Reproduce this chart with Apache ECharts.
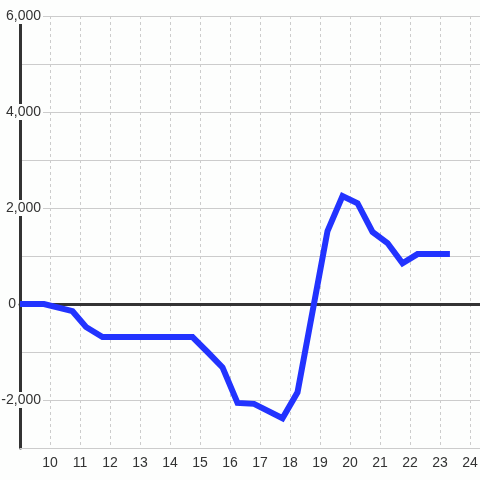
<!DOCTYPE html>
<html>
<head>
<meta charset="utf-8">
<script src="https://cdn.jsdelivr.net/npm/echarts@6/dist/echarts.min.js"></script>
<style>
  html, body { margin: 0; padding: 0; background: #fdfefd; }
  #chart { width: 480px; height: 480px; }
</style>
</head>
<body>
<div id="chart"></div>
<script>
// hours of day (x) and value (y)
const hours = [9.0, 9.8, 10.75, 11.2, 11.75, 14.75, 15.25, 15.75, 16.25, 16.8, 17.75, 18.25, 19.25, 19.75, 20.25, 20.75, 21.25, 21.75, 22.25, 23.33]
const values = [0, 0, -150, -480, -690, -690, -1000, -1320, -2060, -2080, -2380, -1840, 1520, 2250, 2100, 1500, 1270, 850, 1040, 1040]
const yTicks = [-2000, 0, 2000, 4000, 6000]

const bg = '#fdfefd'
const font = "'Liberation Sans', Arial, sans-serif"
const chart = echarts.init(document.getElementById('chart'))

const points = hours.map((h, i) => [h, values[i]])

chart.setOption({
  backgroundColor: bg,
  animation: false,
  grid: { left: 20, right: 0, top: 16, bottom: 32, outerBoundsMode: 'none', containLabel: false },
  xAxis: [
    {
      type: 'value',
      min: 9,
      max: 24.333,
      interval: 1,
      axisLine: { onZero: false, lineStyle: { color: '#cccccc', width: 1 } },
      axisTick: { show: false },
      axisLabel: {
        showMinLabel: false,
        showMaxLabel: false,
        color: '#333',
        fontSize: 14,
        fontFamily: font,
        margin: 8
      },
      splitLine: { show: true, lineStyle: { color: '#cccccc', type: [3, 3] } }
    },
    {
      // thick zero line
      type: 'value',
      min: 9,
      max: 24.333,
      interval: 1,
      position: 'top',
      axisLine: { show: true, onZero: true, lineStyle: { color: '#333', width: 3 } },
      axisTick: { show: false },
      axisLabel: { show: false },
      splitLine: { show: false },
      minorSplitLine: { show: false }
    }
  ],
  yAxis: {
    type: 'value',
    min: -3000,
    max: 6000,
    interval: 1000,
    axisLine: { show: true, lineStyle: { color: '#333', width: 3 } },
    axisTick: { show: false },
    axisLabel: {
      margin: -23,
      color: '#333',
      fontSize: 14,
      fontFamily: font,
      formatter: function (v) {
        if (yTicks.indexOf(v) < 0) return ''
        if (v === 0) return '{z|0}'
        return '{a|' + v.toLocaleString('en-US') + '}'
      },
      rich: {
        a: { backgroundColor: bg, padding: [1, 2], fontSize: 14, fontFamily: font, color: '#333' },
        z: { padding: [0, 27, 0, 0], fontSize: 14, fontFamily: font, color: '#333' }
      }
    },
    splitLine: { show: true, lineStyle: { color: '#cccccc', width: 1 } }
  },
  series: [
    {
      type: 'line',
      data: points,
      showSymbol: false,
      lineStyle: { color: '#2233ff', width: 6, cap: 'butt', join: 'miter' },
      z: 3
    }
  ]
})
</script>
</body>
</html>
